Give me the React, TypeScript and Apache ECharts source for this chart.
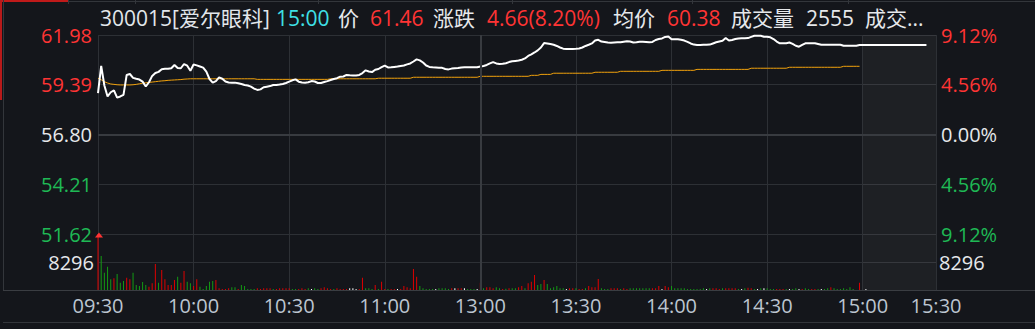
import React, { useEffect, useRef } from 'react';
import * as echarts from 'echarts';

// ---------- data ----------
const PRICES = [
  58.95, 60.37, 59.35, 58.78, 59.0, 59.1, 58.72, 58.78, 58.86, 59.9,
  59.95, 59.75, 59.7, 59.66, 59.55, 59.3, 59.52, 59.85, 60.0, 60.06,
  60.2, 60.22, 60.22, 60.25, 60.42, 60.26, 60.25, 60.47, 60.38, 60.12,
  60.44, 60.4, 60.34, 60.28, 60.07, 59.69, 59.5, 59.58, 59.77, 59.7,
  59.56, 59.51, 59.5, 59.5, 59.47, 59.43, 59.38, 59.35, 59.29, 59.19,
  59.12, 59.15, 59.26, 59.29, 59.32, 59.38, 59.38, 59.4, 59.43, 59.48,
  59.55, 59.62, 59.67, 59.55, 59.51, 59.5, 59.52, 59.58, 59.56, 59.48,
  59.48, 59.53, 59.58, 59.64, 59.69, 59.73, 59.81, 59.82, 59.9, 59.88,
  59.87, 59.87, 59.9, 60.0, 60.14, 60.08, 60.05, 60.17, 60.21, 60.31,
  60.39, 60.29, 60.3, 60.32, 60.34, 60.37, 60.39, 60.45, 60.5, 60.6,
  60.71, 60.66, 60.55, 60.39, 60.32, 60.3, 60.29, 60.28, 60.27, 60.21,
  60.19, 60.23, 60.25, 60.26, 60.29, 60.3, 60.3, 60.3, 60.3, 60.3,
  60.34, 60.37, 60.42, 60.5, 60.57, 60.5, 60.47, 60.48, 60.51, 60.57,
  60.61, 60.63, 60.65, 60.69, 60.76, 60.89, 60.97, 61.07, 61.18, 61.33,
  61.56, 61.54, 61.51, 61.47, 61.41, 61.33, 61.27, 61.25, 61.25, 61.25,
  61.26, 61.28, 61.33, 61.41, 61.47, 61.54, 61.69, 61.73, 61.64, 61.62,
  61.59, 61.58, 61.59, 61.6, 61.6, 61.63, 61.66, 61.64, 61.59, 61.6,
  61.63, 61.63, 61.62, 61.6, 61.62, 61.72, 61.77, 61.8, 61.88, 61.9,
  61.76, 61.76, 61.76, 61.73, 61.69, 61.62, 61.54, 61.48, 61.46, 61.46,
  61.47, 61.47, 61.48, 61.54, 61.6, 61.64, 61.68, 61.82, 61.69, 61.72,
  61.77, 61.8, 61.81, 61.81, 61.82, 61.88, 61.94, 61.94, 61.94, 61.89,
  61.89, 61.86, 61.77, 61.64, 61.55, 61.55, 61.55, 61.59, 61.52, 61.42,
  61.37, 61.46, 61.55, 61.55, 61.55, 61.55, 61.51, 61.47, 61.47, 61.47,
  61.47, 61.47, 61.47, 61.47, 61.42, 61.42, 61.42, 61.42, 61.42, 61.46,
  61.46, 61.46, 61.46, 61.46, 61.46, 61.46, 61.46, 61.46, 61.46, 61.46,
  61.46, 61.46, 61.46, 61.46, 61.46, 61.46, 61.46, 61.46, 61.46, 61.46,
  61.46,
];

const AVG_PRICES = [
  59.73, 59.65, 59.55, 59.48, 59.43, 59.41, 59.39, 59.38, 59.38, 59.38,
  59.38, 59.39, 59.41, 59.44, 59.47, 59.49, 59.51, 59.53, 59.55, 59.57,
  59.59, 59.6, 59.62, 59.63, 59.64, 59.65, 59.66, 59.68, 59.69, 59.7,
  59.7, 59.7, 59.7, 59.7, 59.7, 59.7, 59.7, 59.7, 59.7, 59.7,
  59.7, 59.7, 59.7, 59.7, 59.7, 59.7, 59.7, 59.7, 59.7, 59.7,
  59.67, 59.67, 59.67, 59.67, 59.67, 59.67, 59.67, 59.67, 59.67, 59.67,
  59.67, 59.67, 59.67, 59.67, 59.67, 59.67, 59.67, 59.67, 59.67, 59.67,
  59.67, 59.67, 59.67, 59.7, 59.7, 59.7, 59.7, 59.7, 59.7, 59.7,
  59.7, 59.7, 59.7, 59.7, 59.7, 59.7, 59.7, 59.7, 59.73, 59.73,
  59.73, 59.73, 59.73, 59.73, 59.73, 59.73, 59.73, 59.73, 59.73, 59.78,
  59.78, 59.78, 59.78, 59.78, 59.78, 59.78, 59.78, 59.78, 59.78, 59.78,
  59.78, 59.78, 59.78, 59.78, 59.78, 59.78, 59.78, 59.78, 59.78, 59.78,
  59.83, 59.83, 59.83, 59.83, 59.83, 59.83, 59.83, 59.83, 59.83, 59.83,
  59.83, 59.83, 59.83, 59.83, 59.83, 59.83, 59.88, 59.88, 59.88, 59.93,
  59.93, 59.93, 59.93, 59.99, 59.99, 59.99, 59.99, 59.99, 59.99, 59.99,
  59.99, 59.99, 59.99, 59.99, 59.99, 59.99, 60.04, 60.04, 60.04, 60.04,
  60.04, 60.04, 60.04, 60.04, 60.09, 60.09, 60.09, 60.09, 60.09, 60.09,
  60.09, 60.09, 60.09, 60.09, 60.09, 60.09, 60.09, 60.14, 60.14, 60.14,
  60.14, 60.14, 60.14, 60.14, 60.14, 60.14, 60.14, 60.14, 60.19, 60.19,
  60.19, 60.19, 60.19, 60.19, 60.19, 60.19, 60.19, 60.19, 60.19, 60.19,
  60.19, 60.19, 60.19, 60.19, 60.19, 60.25, 60.25, 60.25, 60.25, 60.25,
  60.25, 60.25, 60.25, 60.25, 60.25, 60.25, 60.25, 60.3, 60.3, 60.3,
  60.3, 60.3, 60.3, 60.3, 60.3, 60.3, 60.3, 60.3, 60.3, 60.3,
  60.3, 60.3, 60.3, 60.3, 60.35, 60.35, 60.35, 60.35, 60.35, 60.35,
];

const VOLUMES = [
  20000, 10060, 5130, 6900, 3160, 3450, 4740, 2170, 2660, 3650,
  3160, 5130, 1480, 1180, 2370, 1480, 990, 1970, 7700, 2170,
  5920, 3160, 1480, 1480, 2960, 3950, 2170, 5620, 2470, 1970,
  1180, 3160, 990, 300, 1180, 2470, 2660, 2960, 500, 300,
  300, 490, 790, 790, 300, 1480, 1180, 300, 300, 300,
  490, 300, 490, 490, 490, 300, 300, 490, 490, 490,
  490, 300, 300, 300, 490, 300, 490, 300, 490, 300,
  490, 790, 490, 300, 300, 490, 300, 300, 300, 490,
  490, 300, 300, 3650, 490, 490, 300, 1480, 300, 2470,
  300, 300, 300, 300, 300, 300, 1180, 790, 490, 6220,
  3950, 1180, 490, 300, 300, 300, 300, 490, 490, 490,
  300, 490, 490, 490, 490, 490, 300, 300, 300, 300,
  2170, 490, 790, 790, 490, 790, 490, 300, 400, 490,
  490, 490, 790, 1180, 490, 1970, 2470, 4440, 1480, 1780,
  2960, 1780, 490, 790, 1180, 490, 490, 300, 490, 490,
  490, 300, 300, 490, 1180, 790, 790, 3250, 490, 300,
  300, 490, 490, 490, 300, 490, 300, 490, 490, 490,
  490, 490, 490, 490, 490, 490, 1180, 300, 1180, 790,
  1180, 490, 490, 490, 490, 300, 300, 300, 300, 300,
  490, 300, 490, 490, 490, 300, 490, 490, 490, 490,
  490, 300, 300, 490, 690, 490, 300, 300, 490, 490,
  490, 300, 300, 300, 300, 300, 300, 300, 300, 490,
  300, 300, 490, 300, 300, 300, 300, 300, 300, 490,
  790, 490, 300, 300, 490, 300, 790, 300, 0, 2170,
  0, 300,
];

// 1 = up (red), -1 = down (green), 0 = unchanged (white)
const VOL_DIRS = [
  1, -1, -1, -1, -1, 1, -1, -1, -1, 1,
  1, -1, -1, -1, -1, -1, 1, 1, 1, -1,
  1, 1, 1, 1, 1, -1, 1, 1, -1, -1,
  1, 1, -1, -1, -1, -1, -1, 1, 1, 1,
  1, 1, -1, -1, 1, -1, -1, -1, -1, -1,
  1, 1, 1, 1, 1, -1, 1, 1, 1, 1,
  1, -1, -1, 1, 1, 1, -1, 0, -1, -1,
  1, 1, 1, 1, -1, 1, 1, 1, 1, 0,
  0, 0, 1, 1, -1, -1, -1, 1, -1, 1,
  1, -1, 1, 1, 0, 1, 1, 1, 1, 1,
  1, -1, -1, -1, -1, -1, 0, -1, -1, -1,
  -1, 1, 0, 1, 1, 0, -1, -1, -1, 0,
  1, -1, 1, 1, 1, -1, -1, 1, -1, 1,
  -1, -1, 1, 1, -1, 1, 1, 1, -1, -1,
  1, -1, -1, -1, -1, -1, -1, 0, 1, 1,
  -1, 1, 1, -1, 1, 1, 1, 1, -1, -1,
  -1, 1, 1, 1, -1, 1, 1, -1, -1, -1,
  -1, -1, -1, -1, 1, 1, 1, 0, 1, 1,
  -1, -1, -1, -1, -1, -1, -1, -1, -1, -1,
  -1, 0, -1, 1, 1, 1, -1, 1, 1, 1,
  1, -1, 0, -1, 1, 1, -1, 0, -1, 0,
  -1, -1, -1, 1, 1, 1, -1, 0, -1, -1,
  0, 1, -1, -1, 1, 1, -1, 0, -1, -1,
  1, -1, -1, -1, -1, -1, -1, -1, -1, 1,
  0, 0,
];

const PREV_CLOSE = 56.8;
const PRICE_MIN = 51.62;
const PRICE_MAX = 61.98;
const PRICE_STEP = 2.59;
const PCT_MAX = 9.12;
const PCT_STEP = 4.56;
const VOL_MARK = 8296;

const TOTAL_SLOTS = 264; // 241 session minutes + after-hours slots
const TICK_INDEX = [0, 30, 60, 90, 120, 150, 180, 210, 240, 263];
const TICK_LABELS = ['09:30', '10:00', '10:30', '11:00', '13:00', '13:30', '14:00', '14:30', '15:00', '15:30'];
const LUNCH_INDEX = 120;
const AFTER_START = 240;

const HEADER_TEXTS = ['300015[爱尔眼科]', '15:00', '价', '61.46', '涨跌', '4.66(8.20%)', '均价', '60.38', '成交量', '2555', '成交...'];

// ---------- styles ----------
const BG = '#14161b';
const GRID = '#2d3035';
const GRID_STRONG = '#383b40';
const RED = '#ff3434';
const GREEN = '#1fb955';
const WHITE = '#e6e8eb';
const CYAN = '#3fe0e6';
const LABEL = '#bcc5d0';
const BAR_RED = '#de0000';
const BAR_GREEN = '#149a14';
const SHADE = 'rgba(255,255,255,0.045)';
const FONT = "'Open Sans', 'Noto Sans CJK SC', sans-serif";

function pad(n: number) { return n < 10 ? '0' + n : '' + n; }
function slotTime(i: number): string {
  let m: number;
  if (i <= 120) m = 9 * 60 + 30 + i;
  else if (i <= 240) m = 13 * 60 + (i - 120);
  else m = 15 * 60 + Math.round(((i - 240) * 30) / 23);
  return pad(Math.floor(m / 60)) + ':' + pad(m % 60);
}

export default function App() {
  const ref = useRef<HTMLDivElement>(null);
  useEffect(() => {
    document.body.style.margin = '0';
    document.body.style.background = BG;
    const chart = echarts.init(ref.current!, null, { renderer: 'svg' });

    const categories = Array.from({ length: TOTAL_SLOTS }, (_, i) => slotTime(i));
    const tickMap: Record<number, string> = {};
    TICK_INDEX.forEach((idx, k) => { tickMap[idx] = TICK_LABELS[k]; });
    const showTick = (idx: number) => tickMap[idx] !== undefined;

    const barColor = (d: number) => (d > 0 ? BAR_RED : d < 0 ? BAR_GREEN : '#ffffff');
    const volData = VOLUMES.map((v, i) => ({ value: v, itemStyle: { color: barColor(VOL_DIRS[i]) } }));

    const priceColor = (v: any) => {
      const n = Number(v);
      if (n > PREV_CLOSE + 0.001) return RED;
      if (n < PREV_CLOSE - 0.001) return GREEN;
      return WHITE;
    };
    const pctColor = (v: any) => {
      const n = Number(v);
      if (n > 0.001) return RED;
      if (n < -0.001) return GREEN;
      return WHITE;
    };

    const headerX = [100, 276, 338, 370, 433, 487, 613, 667, 731, 806, 865];
    const headerColors = ['#e2e6eb', CYAN, WHITE, RED, WHITE, RED, WHITE, RED, WHITE, WHITE, WHITE];

    const graphic: any[] = [
      { type: 'rect', shape: { x: 0, y: 1, width: 1035, height: 1 }, style: { fill: '#33363b' }, silent: true },
      { type: 'rect', shape: { x: 0, y: 0, width: 68, height: 2 }, style: { fill: '#c01a1a' }, silent: true },
      { type: 'rect', shape: { x: 0, y: 0, width: 2, height: 100 }, style: { fill: '#b81a1a' }, silent: true },
      { type: 'rect', shape: { x: 3, y: 0, width: 1, height: 290 }, style: { fill: '#33363b' }, silent: true },
      { type: 'rect', shape: { x: 3, y: 290, width: 1032, height: 1 }, style: { fill: '#3a3d42' }, silent: true },
      { type: 'rect', shape: { x: 3, y: 322, width: 1032, height: 1 }, style: { fill: '#33363b' }, silent: true },
      ...[68, 135, 318, 512, 692, 848].map((x) => ({
        type: 'rect', shape: { x, y: 0, width: 1, height: 4 }, style: { fill: '#33363b' }, silent: true,
      })),
      ...HEADER_TEXTS.map((t, k) => ({
        type: 'text',
        x: headerX[k],
        y: 18,
        style: {
          text: t,
          fill: headerColors[k],
          font: `21px ${FONT}`,
          verticalAlign: 'middle',
          align: 'left',
        },
        silent: true,
      })),
    ];

    const axisLabelBase = { fontFamily: FONT, fontSize: 20 };
    const afterArea = {
      silent: true,
      itemStyle: { color: SHADE },
      data: [[{ xAxis: AFTER_START }, { xAxis: TOTAL_SLOTS - 1 }]],
    };

    chart.setOption({
      animation: false,
      backgroundColor: BG,
      graphic,
      grid: [
        { left: 98, right: 99, top: 35, height: 199 },
        { left: 98, right: 99, top: 234, height: 56 },
      ],
      xAxis: [
        {
          type: 'category', gridIndex: 0, data: categories, boundaryGap: false,
          axisLine: { show: false }, axisTick: { show: false }, axisLabel: { show: false },
          splitLine: { show: true, interval: (i: number) => showTick(i), lineStyle: { color: GRID, width: 1 } },
        },
        {
          type: 'category', gridIndex: 1, data: categories, boundaryGap: false,
          axisLine: { show: true, lineStyle: { color: '#3a3d42', width: 1 } },
          axisTick: { show: false },
          axisLabel: {
            ...axisLabelBase, color: LABEL, margin: 5,
            interval: (i: number) => showTick(i),
            formatter: (_v: string, i: number) => tickMap[i] ?? '',
          },
          splitLine: { show: true, interval: (i: number) => showTick(i), lineStyle: { color: GRID, width: 1 } },
        },
      ],
      yAxis: [
        {
          type: 'value', gridIndex: 0, position: 'left', min: PRICE_MIN, max: PRICE_MAX, interval: PRICE_STEP,
          axisLine: { show: false }, axisTick: { show: false },
          axisLabel: { ...axisLabelBase, margin: 6, color: priceColor, formatter: (v: number) => v.toFixed(2) },
          splitLine: { show: true, lineStyle: { color: GRID, width: 1 } },
        },
        {
          type: 'value', gridIndex: 0, position: 'right', min: -PCT_MAX, max: PCT_MAX, interval: PCT_STEP,
          axisLine: { show: false }, axisTick: { show: false },
          axisLabel: { ...axisLabelBase, margin: 5, color: pctColor, formatter: (v: number) => Math.abs(v).toFixed(2) + '%' },
          splitLine: { show: false },
        },
        {
          type: 'value', gridIndex: 1, position: 'left', min: 0, max: VOL_MARK * 2, interval: VOL_MARK,
          axisLine: { show: false }, axisTick: { show: false },
          axisLabel: { ...axisLabelBase, margin: 4, color: WHITE, formatter: (v: number) => (v === VOL_MARK ? String(VOL_MARK) : '') },
          splitLine: { show: true, lineStyle: { color: GRID, width: 1 } },
        },
        {
          type: 'value', gridIndex: 1, position: 'right', min: 0, max: VOL_MARK * 2, interval: VOL_MARK,
          axisLine: { show: false }, axisTick: { show: false },
          axisLabel: { ...axisLabelBase, margin: 3, color: WHITE, formatter: (v: number) => (v === VOL_MARK ? String(VOL_MARK) : '') },
          splitLine: { show: false },
        },
      ],
      series: [
        {
          type: 'line', name: 'price', xAxisIndex: 0, yAxisIndex: 0, data: PRICES,
          showSymbol: false, symbol: 'none', lineStyle: { color: '#ffffff', width: 2 }, z: 4,
          markArea: afterArea,
          markLine: {
            silent: true, symbol: 'none', label: { show: false },
            lineStyle: { color: GRID_STRONG, width: 2, type: 'solid' },
            data: [{ yAxis: PREV_CLOSE }, { xAxis: LUNCH_INDEX }],
          },
        },
        {
          type: 'line', name: 'avg', xAxisIndex: 0, yAxisIndex: 0, data: AVG_PRICES,
          showSymbol: false, symbol: 'none', lineStyle: { color: '#f2a20c', width: 1 }, z: 3,
        },
        {
          // carrier for the after-hours shading and the lunch line in the volume pane
          type: 'line', name: 'volFrame', xAxisIndex: 1, yAxisIndex: 2, data: [],
          showSymbol: false, symbol: 'none', silent: true,
          markArea: afterArea,
          markLine: {
            silent: true, symbol: 'none', label: { show: false },
            lineStyle: { color: GRID_STRONG, width: 2, type: 'solid' },
            data: [{ xAxis: LUNCH_INDEX }],
          },
        },
        {
          type: 'bar', name: 'vol', xAxisIndex: 1, yAxisIndex: 2, data: volData, barWidth: 1, clip: true, z: 3,
          markPoint: {
            silent: true,
            symbol: 'triangle', symbolSize: [8, 5], symbolOffset: [1, 1],
            label: { show: false },
            itemStyle: { color: RED },
            data: [{ coord: [0, VOL_MARK * 2] }],
          },
        },
      ],
    });
    return () => chart.dispose();
  }, []);
  return <div ref={ref} style={{ width: 1035, height: 329 }} />;
}
